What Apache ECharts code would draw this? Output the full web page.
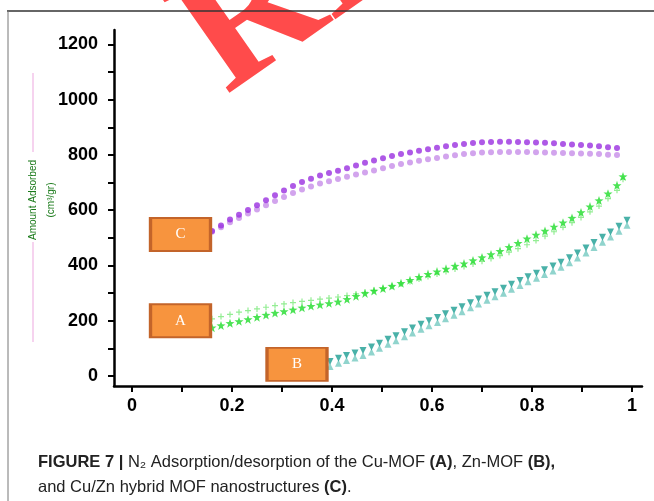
<!DOCTYPE html>
<html><head><meta charset="utf-8">
<script src="https://cdn.jsdelivr.net/npm/echarts@6/dist/echarts.min.js"></script>
<style>html,body{margin:0;padding:0;background:#fff}#c{width:654px;height:501px}</style>
</head><body><div id="c"></div><script>
// ---- data ----
const pressureC = [0.160,0.178,0.196,0.214,0.232,0.250,0.268,0.286,0.304,0.322,0.340,0.358,0.376,0.394,0.412,0.430,0.448,0.466,0.484,0.502,0.520,0.538,0.556,0.574,0.592,0.610,0.628,0.646,0.664,0.682,0.700,0.718,0.736,0.754,0.772,0.790,0.808,0.826,0.844,0.862,0.880,0.898,0.916,0.934,0.952,0.970];
const cUpper = [525,545,566,584,601,618,636,654,671,688,702,714,726,735,743,752,762,772,780,788,796,803,809,815,821,826,831,836,840,843,846,847,848,848,847,846,845,844,842,840,838,836,834,831,828,825];
const cLower = [522,538,556,572,588,603,618,633,648,662,675,686,697,705,713,721,729,736,744,752,760,767,773,779,784,789,794,799,803,806,809,810,811,811,811,811,810,809,808,807,806,805,804,803,801,800];

const pressureA = [0.160,0.178,0.196,0.214,0.232,0.250,0.268,0.286,0.304,0.322,0.340,0.358,0.376,0.394,0.412,0.430,0.448,0.466,0.484,0.502,0.520,0.538,0.556,0.574,0.592,0.610,0.628,0.646,0.664,0.682,0.700,0.718,0.736,0.754,0.772,0.790,0.808,0.826,0.844,0.862,0.880,0.898,0.916,0.934,0.952,0.970,0.982];
const aStars = [175,183,191,198,205,213,221,228,234,240,247,253,258,263,269,278,289,299,308,317,326,336,347,358,369,378,388,398,407,418,429,440,452,466,481,497,511,525,540,555,572,592,613,635,660,690,722];
const aCrosses = [207,215,223,231,237,243,249,255,261,266,270,274,278,282,286,291,297,303,310,317,325,333,342,351,360,369,378,387,396,405,415,425,436,448,461,475,490,506,522,538,555,574,594,615,642,672,712];

const pressureB = [0.396,0.413,0.429,0.446,0.462,0.479,0.495,0.512,0.528,0.545,0.561,0.578,0.594,0.611,0.627,0.644,0.660,0.677,0.693,0.710,0.726,0.743,0.759,0.776,0.792,0.809,0.825,0.842,0.858,0.875,0.891,0.908,0.924,0.941,0.957,0.974,0.990];
const bDown = [53,64,74,83,92,105,119,133,146,160,174,187,200,212,225,238,251,265,279,292,305,318,332,346,359,372,385,398,412,428,445,463,483,502,521,542,564];
const bUp = [35,46,56,65,74,87,101,115,128,142,156,169,182,194,207,220,233,247,261,274,287,300,314,328,341,354,367,380,394,410,427,445,465,484,503,524,546];

const xTicks = [0,0.1,0.2,0.3,0.4,0.5,0.6,0.7,0.8,0.9,1];
const xLabels = [0,0.2,0.4,0.6,0.8,1];
const yTicks = [0,100,200,300,400,500,600,700,800,900,1000,1100,1200];
const yLabels = [0,200,400,600,800,1000,1200];

const boxLabels = ['A','B','C'];
const boxCoords = [[0.097,200],[0.33,42],[0.097,512]];

// ---- chart ----
const zip = (xs, ys) => xs.map((x, i) => [x, ys[i]]);
const starPath = 'path://M0,-10 L2.4,-3.3 9.5,-3.1 3.8,1.2 5.9,8.1 0,4 -5.9,8.1 -3.8,1.2 -9.5,-3.1 -2.4,-3.3Z';
const plusPath = 'path://M-1,-5 h2 v4 h4 v2 h-4 v4 h-2 v-4 h-4 v-2 h4z';
const tickFont = { color: '#000', fontFamily: 'Liberation Sans', fontWeight: 'bold', fontSize: 18 };

function box(i) {
  return {
    symbol: 'rect', symbolSize: [60, 33],
    itemStyle: { color: '#F7943E', borderColor: '#C3642A', borderWidth: 2.5 },
    label: { show: true, position: 'inside', formatter: boxLabels[i], color: '#fff',
             fontFamily: 'Liberation Serif', fontSize: 15 },
    data: [{ coord: boxCoords[i] }]
  };
}

const chart = echarts.init(document.getElementById('c'), null, { renderer: 'canvas' });
chart.setOption({
  animation: false,
  backgroundColor: '#fff',
  grid: { left: 114, right: 12, top: 30, bottom: 115, outerBoundsMode: 'none', containLabel: false },
  xAxis: {
    type: 'value', min: -0.036, max: 1.02,
    splitLine: { show: false },
    axisLine: { show: true, onZero: false, lineStyle: { color: '#000', width: 2.5 } },
    axisTick: { show: true, inside: false, length: 6, customValues: xTicks, lineStyle: { color: '#000', width: 2 } },
    axisLabel: Object.assign({ customValues: xLabels, margin: 11, formatter: v => String(+(+v).toFixed(1)) }, tickFont)
  },
  yAxis: {
    type: 'value', min: -36, max: 1252,
    name: 'Amount Adsorbed\n(cm³/gr)', nameLocation: 'middle', nameRotate: 90, nameGap: 54, nameMoveOverlap: false,
    nameTextStyle: { color: '#1a7a1a', fontFamily: 'Liberation Sans', fontSize: 10, lineHeight: 18, padding: [0, 0, 0, 16] },
    splitLine: { show: false },
    axisLine: { show: true, onZero: false, lineStyle: { color: '#000', width: 2.5 } },
    axisTick: { show: true, inside: false, length: 6, customValues: yTicks, lineStyle: { color: '#000', width: 2 } },
    axisLabel: Object.assign({ customValues: yLabels, margin: 16, formatter: v => String(v) }, tickFont)
  },
  series: [
    { name: 'C desorption', type: 'scatter', data: zip(pressureC, cLower), symbol: 'circle', symbolSize: 6, itemStyle: { color: '#c78de8' }, markPoint: box(2) },
    { name: 'C adsorption', type: 'scatter', data: zip(pressureC, cUpper), symbol: 'circle', symbolSize: 6, itemStyle: { color: '#9a2fe0' } },
    { name: 'A desorption', type: 'scatter', data: zip(pressureA, aCrosses), symbol: plusPath, symbolSize: 6, itemStyle: { color: '#78e878' } },
    { name: 'A adsorption', type: 'scatter', data: zip(pressureA, aStars), symbol: starPath, symbolSize: 9, itemStyle: { color: '#1fdc2a' }, markPoint: box(0) },
    { name: 'B up', type: 'scatter', data: zip(pressureB, bUp), symbol: 'triangle', symbolSize: 7, itemStyle: { color: '#74c9c0' } },
    { name: 'B down', type: 'scatter', data: zip(pressureB, bDown), symbol: 'triangle', symbolRotate: 180, symbolSize: 7, itemStyle: { color: '#1b9d92' }, markPoint: box(1) }
  ],
  graphic: [
    { type: 'line', z: 50, shape: { x1: 7, y1: 11, x2: 654, y2: 11 }, style: { stroke: '#333', lineWidth: 1.5 } },
    { type: 'line', z: 50, shape: { x1: 8, y1: 11, x2: 8, y2: 501 }, style: { stroke: '#777', lineWidth: 1 } },
    { type: 'line', z: 1, shape: { x1: 33, y1: 73, x2: 33, y2: 152 }, style: { stroke: '#f3c4ea', lineWidth: 1.5 } },
    { type: 'line', z: 1, shape: { x1: 33, y1: 242, x2: 33, y2: 342 }, style: { stroke: '#f3c4ea', lineWidth: 1.5 } },
    { type: 'text', z: 40, x: 251, y: 131, rotation: 0.61,
      style: { text: 'RETRACTED', font: 'bold 180px "Liberation Serif"', fill: '#ff4b4b', stroke: '#fff', lineWidth: 3, verticalAlign: 'bottom', align: 'left' } },
    { type: 'text', z: 60, left: 38, top: 450,
      style: { text: '{b|FIGURE 7 |} N₂ Adsorption/desorption of the Cu-MOF {b|(A)}, Zn-MOF {b|(B),}\nand Cu/Zn hybrid MOF nanostructures {b|(C)}.',
               font: '16.5px "Liberation Sans"', fill: '#222', lineHeight: 25,
               rich: { b: { fontWeight: 'bold', fontSize: 16.5, fontFamily: 'Liberation Sans', fill: '#222' } } } }
  ]
});
</script></body></html>
